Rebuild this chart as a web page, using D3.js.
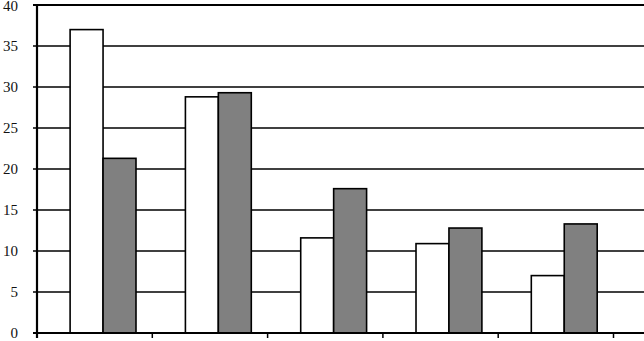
<!DOCTYPE html>
<html>
<head>
<meta charset="utf-8">
<script src="https://cdn.jsdelivr.net/npm/d3@7"></script>
<style>
  body { margin: 0; background: #fff; }
  svg { display: block; }
</style>
</head>
<body>
<div id="chart"></div>
<script>
// Chart data
const categories = ['A', 'B', 'C', 'D', 'E'];
const seriesNames = ['white', 'gray'];
const whiteValues = [37, 28.8, 11.6, 10.9, 7.0];
const grayValues = [21.3, 29.3, 17.6, 12.8, 13.3];
const yTicks = [0, 5, 10, 15, 20, 25, 30, 35, 40];

const width = 644, height = 341;
const margin = { top: 5, right: 30, bottom: 8, left: 37 };
const chartWidth = width - margin.left - margin.right;
const chartHeight = height - margin.top - margin.bottom;

const svg = d3.select('#chart')
    .append('svg')
    .attr('width', width)
    .attr('height', height);

const g = svg.append('g')
    .attr('transform', `translate(${margin.left},${margin.top})`);

// Scales
const x0 = d3.scaleBand()
    .domain(categories)
    .range([0, chartWidth - 0.5])
    .padding(0);

// bars sit right of the band centre
const x1 = d3.scaleBand()
    .domain(seriesNames)
    .range([0, x0.bandwidth()])
    .paddingInner(0)
    .paddingOuter(0.75)
    .align(0.67);

const y = d3.scaleLinear()
    .domain([0, 40])
    .range([chartHeight, 0]);

const colors = { white: '#ffffff', gray: '#808080' };

// Gridlines (extend to the right edge)
g.append('g')
    .selectAll('line')
    .data(yTicks.filter(d => d > 0))
    .join('line')
    .attr('x1', -4)
    .attr('x2', width - margin.left)
    .attr('y1', d => y(d))
    .attr('y2', d => y(d))
    .attr('stroke', '#000')
    .attr('stroke-width', d => d === 40 ? 2.2 : 1.6);

// Y axis labels
g.append('g')
    .selectAll('text')
    .data(yTicks)
    .join('text')
    .attr('x', -19)
    .attr('y', d => y(d))
    .attr('dy', d => d === 40 ? '0.42em' : '0.35em')
    .attr('text-anchor', 'end')
    .style('font-family', '"Liberation Serif", "DejaVu Serif", serif')
    .style('font-size', '15px')
    .attr('fill', '#111')
    .text(d => d);

// Bars
const rows = categories.map((c, i) => ({ cat: c, white: whiteValues[i], gray: grayValues[i] }));

g.append('g')
    .selectAll('g')
    .data(rows)
    .join('g')
    .attr('transform', d => `translate(${x0(d.cat)},0)`)
    .selectAll('rect')
    .data(d => seriesNames.map(s => ({ key: s, value: d[s] })))
    .join('rect')
    .attr('x', d => x1(d.key))
    .attr('y', d => y(d.value))
    .attr('width', x1.bandwidth())
    .attr('height', d => chartHeight - y(d.value))
    .attr('fill', d => colors[d.key])
    .attr('stroke', '#000')
    .attr('stroke-width', 1.6);

// Zero line and x ticks at band boundaries
g.append('line')
    .attr('x1', -4)
    .attr('x2', width - margin.left)
    .attr('y1', chartHeight)
    .attr('y2', chartHeight)
    .attr('stroke', '#000')
    .attr('stroke-width', 1.8);

const boundaries = categories.map(c => x0(c)).concat([x0.range()[1]]);
g.append('g')
    .selectAll('line')
    .data(boundaries)
    .join('line')
    .attr('x1', d => d)
    .attr('x2', d => d)
    .attr('y1', chartHeight)
    .attr('y2', chartHeight + 5)
    .attr('stroke', '#000')
    .attr('stroke-width', 1.5);

// Y axis line
g.append('line')
    .attr('x1', 0)
    .attr('x2', 0)
    .attr('y1', 0)
    .attr('y2', chartHeight + 5)
    .attr('stroke', '#000')
    .attr('stroke-width', 2.2);
</script>
</body>
</html>
